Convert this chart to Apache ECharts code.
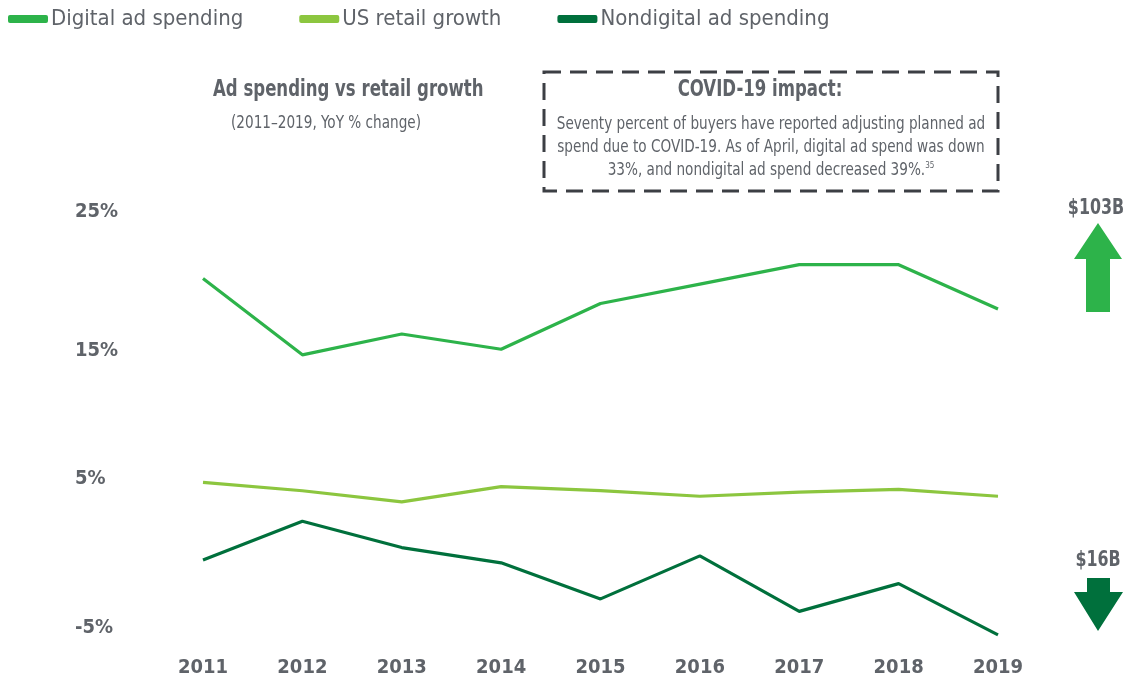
<!DOCTYPE html>
<html>
<head>
<meta charset="utf-8">
<script src="https://cdn.jsdelivr.net/npm/echarts@6/dist/echarts.min.js"></script>
<style>
html,body{margin:0;padding:0;background:#fff;}
#chart{width:1130px;height:683px;}
</style>
</head>
<body>
<div id="chart"></div>
<script>
// ---- data ----
var years = ['2011','2012','2013','2014','2015','2016','2017','2018','2019'];
var digitalAd = [20.2, 14.7, 16.2, 15.1, 18.4, 19.8, 21.2, 21.2, 18.0];
var retailGrowth = [5.5, 4.9, 4.1, 5.2, 4.9, 4.5, 4.8, 5.0, 4.5];
var nondigitalAd = [-0.1, 2.7, 0.8, -0.3, -2.9, 0.2, -3.8, -1.8, -5.5];
var seriesNames = ['Digital ad spending', 'US retail growth', 'Nondigital ad spending'];
var yTicks = [-5, 5, 15, 25];
var chartTitle = 'Ad spending vs retail growth';
var chartSubtitle = '(2011\u20132019, YoY % change)';
var noteTitle = 'COVID-19 impact:';
var noteLines = ['Seventy percent of buyers have reported adjusting planned ad',
                 'spend due to COVID-19. As of April, digital ad spend was down',
                 '33%, and nondigital ad spend decreased 39%.'];
var noteSup = '35';
var upLabel = '$103B';
var downLabel = '$16B';

var C_DIG = '#2db34a', C_RET = '#8cc63f', C_NON = '#00703c';
var GRAY = '#5f6369';
var NARROW = '"DejaVu Sans Condensed","Liberation Sans Narrow","Open Sans",sans-serif';

var chart = echarts.init(document.getElementById('chart'), null, {renderer:'canvas'});
var option = {
  animation: false,
  backgroundColor: '#fff',
  legend: {
    left: 3, top: 3,
    data: seriesNames,
    icon: 'roundRect',
    itemWidth: 40, itemHeight: 8,
    itemGap: 56,
    textStyle: {fontFamily: NARROW, fontSize: 22, color: GRAY, padding:[0,0,0,-2]}
  },
  grid: {left: 203, right: 132, top: 212, bottom: 55, containLabel: false},
  xAxis: {
    type: 'category',
    data: years,
    boundaryGap: false,
    axisLine: {show: false},
    axisTick: {show: false},
    axisLabel: {margin: 30, fontFamily: NARROW, fontWeight: 'bold', fontSize: 20, color: GRAY}
  },
  yAxis: {
    type: 'value',
    min: yTicks[0], max: yTicks[yTicks.length-1], interval: 10,
    splitLine: {show: false},
    axisLine: {show: false},
    axisTick: {show: false},
    axisLabel: {
      align: 'left', margin: 128,
      formatter: function(v){ return v === 5 ? '{up|' + v + '%}' : '{n|' + v + '%}'; },
      rich: {
        n: {fontFamily: NARROW, fontWeight: 'bold', fontSize: 20, color: GRAY},
        up: {fontFamily: NARROW, fontWeight: 'bold', fontSize: 20, color: GRAY, padding: [0,0,22,0]}
      }
    }
  },
  series: [
    {name: seriesNames[0], type: 'line', data: digitalAd, symbol: 'none', clip: false,
     lineStyle: {color: C_DIG, width: 3.2}, itemStyle: {color: C_DIG}},
    {name: seriesNames[1], type: 'line', data: retailGrowth, symbol: 'none', clip: false,
     lineStyle: {color: C_RET, width: 3.2}, itemStyle: {color: C_RET}},
    {name: seriesNames[2], type: 'line', data: nondigitalAd, symbol: 'none', clip: false,
     lineStyle: {color: C_NON, width: 3.2}, itemStyle: {color: C_NON}}
  ],
  graphic: [
    {type: 'text', x: 213, y: 79, scaleX: 0.8, style: {text: chartTitle, fontFamily: NARROW, fontWeight: 'bold', fontSize: 23, fill: GRAY}},
    {type: 'text', x: 231, y: 115, scaleX: 0.89, style: {text: chartSubtitle, fontFamily: NARROW, fontSize: 17, fill: GRAY}},
    {type: 'rect', shape: {x: 544, y: 72, width: 454, height: 119},
     style: {fill: 'none', stroke: '#3c3f44', lineWidth: 3, lineDash: [17, 9]}},
    {type: 'text', x: 760, y: 79, scaleX: 0.8, style: {text: noteTitle, align: 'center', fontFamily: NARROW, fontWeight: 'bold', fontSize: 23, fill: GRAY}},
    {type: 'text', x: 771, y: 113, scaleX: 0.89, style: {
      text: noteLines[0] + '\n' + noteLines[1] + '\n' + noteLines[2] + '{s|' + noteSup + '}',
      align: 'center', fontFamily: NARROW, fontSize: 17, lineHeight: 23, fill: GRAY,
      rich: {s: {fontFamily: NARROW, fontSize: 9, fill: GRAY, padding: [0,0,10,0]}}
    }},
    {type: 'text', x: 1096, y: 198, scaleX: 0.84, style: {text: upLabel, align: 'center', fontFamily: NARROW, fontWeight: 'bold', fontSize: 21, fill: GRAY}},
    {type: 'polygon', shape: {points: [[1098,223],[1122,259],[1110,259],[1110,312],[1086,312],[1086,259],[1074,259]]},
     style: {fill: C_DIG}},
    {type: 'text', x: 1098, y: 550, scaleX: 0.84, style: {text: downLabel, align: 'center', fontFamily: NARROW, fontWeight: 'bold', fontSize: 21, fill: GRAY}},
    {type: 'polygon', shape: {points: [[1087,578],[1110,578],[1110,592],[1123,592],[1098,631],[1074,592],[1087,592]]},
     style: {fill: C_NON}}
  ]
};
chart.setOption(option);
</script>
</body>
</html>
